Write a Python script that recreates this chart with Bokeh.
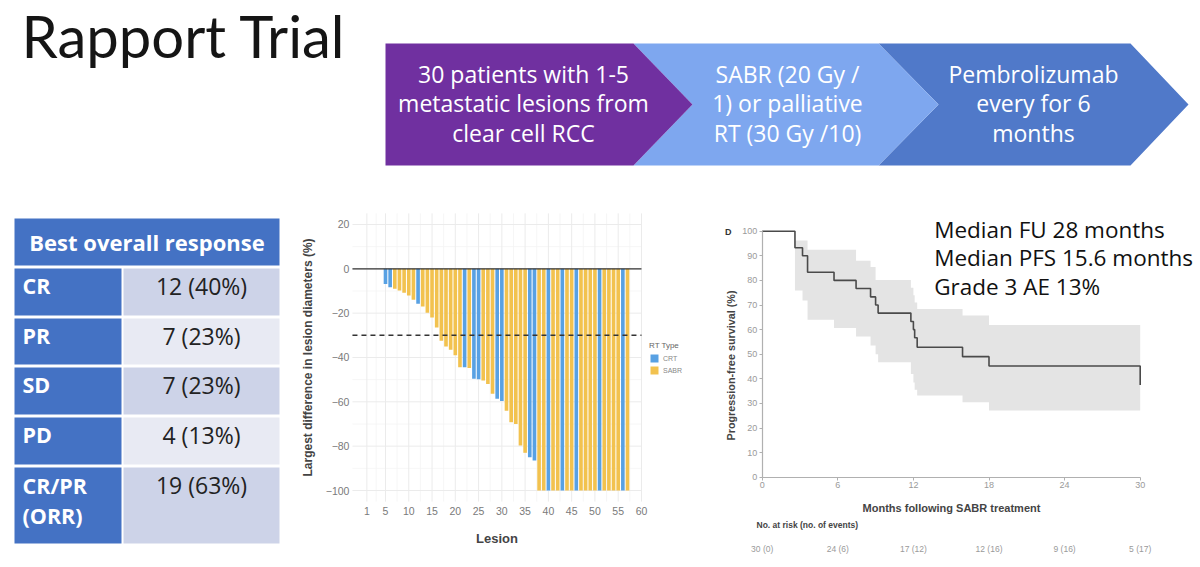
import math
from bokeh.plotting import figure
from bokeh.models import (Range1d, FixedTicker, Legend, LegendItem, ColumnDataSource)
from bokeh.layouts import column, row
from bokeh.embed import file_html
from bokeh.resources import INLINE
from bokeh.core.properties import value

# ---------------- data ----------------
title_text = "Rapport Trial"
flow_steps = [
    ["30 patients with 1-5", "metastatic lesions from", "clear cell RCC"],
    ["SABR (20 Gy /", "1) or palliative", "RT (30 Gy /10)"],
    ["Pembrolizumab", "every for 6", "months"],
]
flow_colors = ["#7030a0", "#7ea7ef", "#5079c9"]

response_header = "Best overall response"
response_categories = ["CR", "PR", "SD", "PD", "CR/PR\n(ORR)"]
response_values = ["12 (40%)", "7 (23%)", "7 (23%)", "4 (13%)", "19 (63%)"]

lesion_ids = list(range(5, 58))
lesion_change = [
    -6.8, -8.3, -9.0, -9.8, -10.8, -12.0, -14.0, -15.8, -17.0, -19.8,
    -22.0, -26.5, -32.5, -35.0, -36.5, -39.0, -44.4, -44.4, -44.8, -49.6,
    -49.8, -50.4, -52.0, -56.4, -58.6, -59.6, -64.0, -69.2, -70.0, -79.7,
    -83.0, -85.0, -86.5, -100, -100, -100, -100, -100, -100, -100,
    -100, -100, -100, -100, -100, -100, -100, -100, -100, -100,
    -100, -100, -100,
]
lesion_rt = [
    "CRT", "CRT", "SABR", "SABR", "SABR", "SABR", "SABR", "CRT", "SABR", "SABR",
    "SABR", "SABR", "SABR", "SABR", "SABR", "SABR", "SABR", "CRT", "SABR", "CRT",
    "CRT", "SABR", "SABR", "SABR", "CRT", "CRT", "SABR", "SABR", "SABR", "SABR",
    "SABR", "CRT", "CRT", "SABR", "SABR", "CRT", "SABR", "SABR", "CRT", "SABR",
    "SABR", "CRT", "SABR", "SABR", "SABR", "SABR", "CRT", "SABR", "SABR", "SABR",
    "SABR", "CRT", "SABR",
]
rt_types = ["CRT", "SABR"]
rt_colors = ["#58a1e3", "#f2c24f"]
wf_xticks = [1, 5, 10, 15, 20, 25, 30, 35, 40, 45, 50, 55, 60]
wf_yticks = [20, 0, -20, -40, -60, -80, -100]
response_threshold = -30

km_time = [0, 2.6, 3.2, 3.6, 5.7, 7.45, 8.6, 9.0, 9.2, 11.8, 12.0, 12.1, 12.3, 15.9, 18.0, 30]
km_surv = [100, 93.3, 90.0, 83.3, 80.0, 76.7, 73.3, 70.0, 66.7, 63.3, 60.0, 56.7, 52.8, 49.0, 45.2, 37.5]
km_upper = [100, 96.2, 96.2, 92.5, 92.5, 88.0, 85.4, 80.2, 80.2, 77.0, 74.0, 71.0, 68.4, 65.7, 61.9, 61.9]
km_lower = [100, 75.9, 71.8, 64.0, 60.6, 57.2, 53.5, 50.0, 46.7, 42.0, 38.5, 35.5, 33.2, 30.5, 27.1, 27.1]
km_xticks = [0, 6, 12, 18, 24, 30]
km_yticks = [0, 10, 20, 30, 40, 50, 60, 70, 80, 90, 100]
risk_times = [0, 6, 12, 18, 24, 30]
risk_n = [30, 24, 17, 12, 9, 5]
risk_events = [0, 6, 12, 16, 16, 17]
summary_lines = ["Median FU 28 months", "Median PFS 15.6 months", "Grade 3 AE 13%"]

TITLE_FONT = "Lato"
SLIDE_FONT = "Open Sans"
R_FONT = "Liberation Sans"

def bare(fig):
    fig.grid.visible = False
    fig.outline_line_color = None
    return fig

# ---------------- top banner (page pixel coordinates) ----------------
top = bare(figure(width=1200, height=200, x_range=Range1d(0, 1200), y_range=Range1d(200, 0),
                  x_axis_type=None, y_axis_type=None, toolbar_location=None,
                  output_backend="svg", title=None, min_border=0))
top.text(x=[21], y=[35], text=[title_text], text_font=value(TITLE_FONT),
         text_font_size="58px", text_baseline="middle", text_color="#151515")

y_top, y_mid, y_bot = 43, 104, 165
x_starts = [385, 633, 878]
x_shoulders = [633, 878, 1130]
x_tips = [692, 938, 1188]
xs, ys = [], []
for i in range(len(flow_steps)):
    if i == 0:
        xs.append([x_starts[i], x_shoulders[i], x_tips[i], x_shoulders[i], x_starts[i]])
        ys.append([y_top, y_top, y_mid, y_bot, y_bot])
    else:
        xs.append([x_starts[i], x_shoulders[i], x_tips[i], x_shoulders[i], x_starts[i], x_tips[i - 1]])
        ys.append([y_top, y_top, y_mid, y_bot, y_bot, y_mid])
order = list(range(len(flow_steps)))[::-1]
top.patches(xs=[xs[i] for i in order], ys=[ys[i] for i in order],
            fill_color=[flow_colors[i] for i in order], line_color=None)
centers = [523, 787, 1033]
top.text(x=centers, y=[y_mid - 1] * 3, text=["\n".join(s) for s in flow_steps],
         text_font=value(SLIDE_FONT), text_font_size="23px", text_color="white",
         text_align="center", text_baseline="middle", text_line_height=0.926)

# ---------------- table ----------------
tab = bare(figure(width=300, height=367, x_range=Range1d(0, 300), y_range=Range1d(567, 200),
                  x_axis_type=None, y_axis_type=None, toolbar_location=None,
                  output_backend="svg", title=None, min_border=0))
t_left, t_split, t_right = 14, 121, 279
head_top, head_bot = 218, 265
row_edges = [268, 318, 367, 417, 467, 546]
gap = 3
tab.quad(left=[t_left], right=[t_right], top=[head_top], bottom=[head_bot],
         fill_color="#4472c4", line_color=None)
tab.text(x=[(t_left + t_right) / 2], y=[(head_top + head_bot) / 2], text=[response_header],
         text_font=value(SLIDE_FONT), text_font_style="bold", text_font_size="22px",
         text_color="white", text_align="center", text_baseline="middle")
n = len(response_categories)
tops = [row_edges[i] for i in range(n)]
bots = [row_edges[i + 1] - gap for i in range(n)]
tab.quad(left=[t_left] * n, right=[t_split] * n, top=tops, bottom=bots,
         fill_color="#4472c4", line_color=None)
tab.quad(left=[t_split + 2] * n, right=[t_right] * n, top=tops, bottom=bots,
         fill_color=["#cdd3e8" if i % 2 == 0 else "#e8eaf3" for i in range(n)], line_color=None)
line_pitch = 32
cat_y = [t + 17 + (c.count("\n")) * line_pitch / 2 for t, c in zip(tops, response_categories)]
tab.text(x=[t_left + 8] * n, y=cat_y, text=response_categories,
         text_font=value(SLIDE_FONT), text_font_style="bold", text_font_size="21.5px",
         text_color="white", text_align="left", text_baseline="middle", text_line_height=1.03)
tab.text(x=[(t_split + 2 + t_right) / 2] * n, y=[t + 17 for t in tops], text=response_values,
         text_font=value(SLIDE_FONT), text_font_size="23px",
         text_color="#222222", text_align="center", text_baseline="middle")

# ---------------- waterfall ----------------
px_per_lesion, px_per_pct = 4.654, 2.217
wf_x0, wf_y0 = 385 - 5 * px_per_lesion, 268.3        # page position of lesion 0 / 0 %
wf = bare(figure(width=400, height=367,
                 x_range=Range1d((300 - wf_x0) / px_per_lesion, (700 - wf_x0) / px_per_lesion),
                 y_range=Range1d((wf_y0 - 567) / px_per_pct, (wf_y0 - 200) / px_per_pct),
                 toolbar_location=None, output_backend="svg", title=None, min_border=0))
panel_x = (-2.1, 60.0)
panel_y = (-105, 25)
minor_x = [(a + b) / 2 for a, b in zip(wf_xticks[:-1], wf_xticks[1:])]
minor_y = [(a + b) / 2 for a, b in zip(wf_yticks[:-1], wf_yticks[1:])]
wf.segment(x0=minor_x, x1=minor_x, y0=[panel_y[0]] * len(minor_x), y1=[panel_y[1]] * len(minor_x),
           line_color="#f4f4f4", line_width=0.8)
wf.segment(x0=[panel_x[0]] * len(minor_y), x1=[panel_x[1]] * len(minor_y), y0=minor_y, y1=minor_y,
           line_color="#f4f4f4", line_width=0.8)
wf.segment(x0=wf_xticks, x1=wf_xticks, y0=[panel_y[0]] * len(wf_xticks), y1=[panel_y[1]] * len(wf_xticks),
           line_color="#ebebeb", line_width=1)
wf.segment(x0=[panel_x[0]] * len(wf_yticks), x1=[panel_x[1]] * len(wf_yticks), y0=wf_yticks, y1=wf_yticks,
           line_color="#ebebeb", line_width=1)

wf.xaxis.ticker = FixedTicker(ticks=wf_xticks)
wf.yaxis.ticker = FixedTicker(ticks=wf_yticks)
wf.xaxis.fixed_location = panel_y[0]
wf.yaxis.fixed_location = panel_x[0]
wf.xaxis.bounds = panel_x
wf.yaxis.bounds = panel_y
wf.axis.axis_line_color = None
wf.axis.major_tick_line_color = None
wf.axis.minor_tick_line_color = None
wf.axis.major_tick_out = 0
wf.axis.major_tick_in = 0
wf.axis.minor_tick_out = 0
wf.axis.minor_tick_in = 0
wf.axis.major_label_text_color = "#7a7a7a"
wf.axis.major_label_text_font = R_FONT
wf.axis.major_label_text_font_size = "10.5px"
wf.axis.axis_label_text_font = R_FONT
wf.axis.axis_label_text_font_style = "bold"
wf.axis.axis_label_text_color = "#444444"
wf.xaxis.axis_label = "Lesion"
wf.yaxis.axis_label = "Largest difference in lesion diameters (%)"
wf.xaxis.axis_label_text_font_size = "13px"
wf.yaxis.axis_label_text_font_size = "12px"
wf.xaxis.major_label_standoff = 5
wf.xaxis.axis_label_standoff = 13
wf.yaxis.major_label_standoff = 3
wf.yaxis.axis_label_standoff = 8

items = []
for rt, col in zip(rt_types, rt_colors):
    xs_ = [l for l, t in zip(lesion_ids, lesion_rt) if t == rt]
    vs_ = [v for v, t in zip(lesion_change, lesion_rt) if t == rt]
    src = ColumnDataSource(dict(x=xs_, top=[0] * len(xs_), bottom=vs_))
    r = wf.vbar(x="x", top="top", bottom="bottom", width=0.78, source=src,
                fill_color=col, line_color=None)
    items.append(LegendItem(label=rt, renderers=[r]))
wf.segment(x0=[panel_x[0]], x1=[panel_x[1]], y0=[0], y1=[0], line_color="#333333", line_width=1.3)
wf.segment(x0=[panel_x[0]], x1=[panel_x[1]], y0=[response_threshold], y1=[response_threshold],
           line_color="#333333", line_width=1.5, line_dash="5 4")
leg = Legend(items=items, title="RT Type", title_text_font=R_FONT, title_text_font_size="8px",
             title_text_color="#666666", title_text_font_style="normal", title_standoff=3,
             label_text_font=R_FONT, label_text_font_size="7px", label_text_color="#888888",
             glyph_width=10, glyph_height=10, label_height=10, label_standoff=4,
             spacing=2, padding=0, margin=0,
             border_line_color=None, background_fill_alpha=0, location=(349, 192))
wf.add_layout(leg)

# ---------------- Kaplan-Meier ----------------
px_per_month, px_per_surv = 12.6, 2.46
km_x0, km_y0 = 761.7, 476.7
km = bare(figure(width=500, height=367,
                 x_range=Range1d((700 - km_x0) / px_per_month, (1200 - km_x0) / px_per_month),
                 y_range=Range1d((km_y0 - 567) / px_per_surv, (km_y0 - 200) / px_per_surv),
                 toolbar_location=None, output_backend="svg", title=None, min_border=0))
km.xaxis.ticker = FixedTicker(ticks=km_xticks)
km.yaxis.ticker = FixedTicker(ticks=km_yticks)
km.xaxis.fixed_location = 0
km.yaxis.fixed_location = 0
km.xaxis.bounds = (km_xticks[0], km_xticks[-1])
km.yaxis.bounds = (km_yticks[0], km_yticks[-1])
km.axis.axis_line_color = "#b0b0b0"
km.axis.axis_line_width = 1.2
km.axis.major_tick_line_color = "#b0b0b0"
km.axis.major_tick_out = 3
km.axis.major_tick_in = 0
km.axis.minor_tick_line_color = None
km.axis.minor_tick_out = 0
km.axis.major_label_text_color = "#9a9a9a"
km.axis.major_label_text_font = R_FONT
km.axis.major_label_text_font_size = "9px"
km.xaxis.axis_label = "Months following SABR treatment"
km.xaxis.axis_label_text_font = R_FONT
km.xaxis.axis_label_text_font_style = "bold"
km.xaxis.axis_label_text_color = "#444444"
km.xaxis.axis_label_text_font_size = "11px"
km.xaxis.major_label_standoff = 2
km.xaxis.axis_label_standoff = 10
km.yaxis.major_label_standoff = 2

bx, bl, bu = [], [], []
for i in range(len(km_time) - 1):
    bx += [km_time[i], km_time[i + 1]]
    bl += [km_lower[i], km_lower[i]]
    bu += [km_upper[i], km_upper[i]]
km.varea(x=bx, y1=bl, y2=bu, fill_color="#e4e4e4")
km.step(x=km_time, y=km_surv, mode="after", line_color="#4a4a4a", line_width=1.6)

# y-axis title, placed where the original figure has it (slightly below the axis centre)
km.text(x=[-2.44], y=[45.4], text=["Progression-free survival (%)"], angle=[math.pi / 2],
        text_font=value(R_FONT), text_font_style="bold", text_font_size="10.8px",
        text_color="#444444", text_align="center", text_baseline="middle")
km.text(x=[-2.7], y=[99.5], text=["D"], text_font=value(R_FONT), text_font_style="bold",
        text_font_size="9px", text_color="#333333", text_baseline="middle", text_align="center")
km.text(x=[-0.45], y=[-19.6], text=["No. at risk (no. of events)"], text_font=value(R_FONT),
        text_font_style="bold", text_font_size="8.5px", text_color="#444444",
        text_baseline="middle", text_align="left")
km.text(x=risk_times, y=[-29] * len(risk_times),
        text=[f"{a} ({b})" for a, b in zip(risk_n, risk_events)], text_font=value(R_FONT),
        text_font_size="8.5px", text_color="#9a9a9a", text_align="center", text_baseline="middle")
km.text(x=[13.65] * len(summary_lines), y=[100.7 - 11.55 * j for j in range(len(summary_lines))],
        text=summary_lines, text_font=value(SLIDE_FONT), text_font_size="22.5px",
        text_color="#111111", text_baseline="middle", text_align="left")

layout = column(top, row(tab, wf, km))
open("out.html", "w").write(file_html(layout, INLINE))
